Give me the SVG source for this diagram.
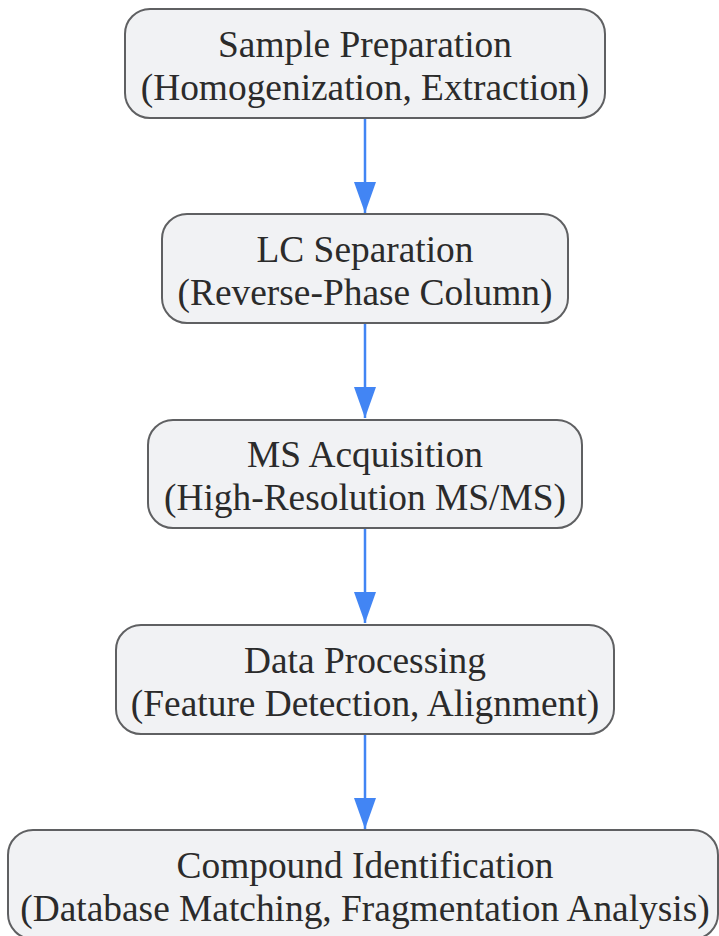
<svg xmlns="http://www.w3.org/2000/svg" width="719" height="936" viewBox="0 0 719 936">
<style>
.node rect{fill:#f1f2f4;stroke:#5f6062;stroke-width:2}
.node text{font-family:"Liberation Serif","Times New Roman",serif;font-size:37.4px;fill:#2b2b2b;text-anchor:middle}
.edge{stroke:#4285f4;stroke-width:2.5;fill:none;marker-end:url(#ah)}
</style>
<defs>
<marker id="ah" viewBox="0 0 31 22" refX="31" refY="11" markerWidth="31" markerHeight="22" markerUnits="userSpaceOnUse" orient="auto">
<path d="M0,0 L31,11 L0,22 Z" fill="#4285f4"/>
</marker>
</defs>
<g id="connectors">
<line class="edge" x1="365" y1="119" x2="365" y2="213"/>
<line class="edge" x1="365" y1="324" x2="365" y2="418"/>
<line class="edge" x1="365" y1="529" x2="365" y2="623"/>
<line class="edge" x1="365" y1="735" x2="365" y2="829"/>
</g>
<g id="n1" class="node">
<rect x="125" y="9" width="480" height="109" rx="25"/>
<text x="365" y="57">Sample Preparation</text>
<text x="365" y="100">(Homogenization, Extraction)</text>
</g>
<g id="n2" class="node">
<rect x="162" y="214" width="406" height="109" rx="25"/>
<text x="365" y="262">LC Separation</text>
<text x="365" y="305">(Reverse-Phase Column)</text>
</g>
<g id="n3" class="node">
<rect x="148" y="420" width="434" height="108" rx="25"/>
<text x="365" y="467">MS Acquisition</text>
<text x="365" y="510">(High-Resolution MS/MS)</text>
</g>
<g id="n4" class="node">
<rect x="116" y="625" width="498" height="109" rx="25"/>
<text x="365" y="673">Data Processing</text>
<text x="365" y="716">(Feature Detection, Alignment)</text>
</g>
<g id="n5" class="node">
<rect x="8" y="830" width="710" height="109" rx="25"/>
<text x="365" y="878">Compound Identification</text>
<text x="365" y="921">(Database Matching, Fragmentation Analysis)</text>
</g>
</svg>
